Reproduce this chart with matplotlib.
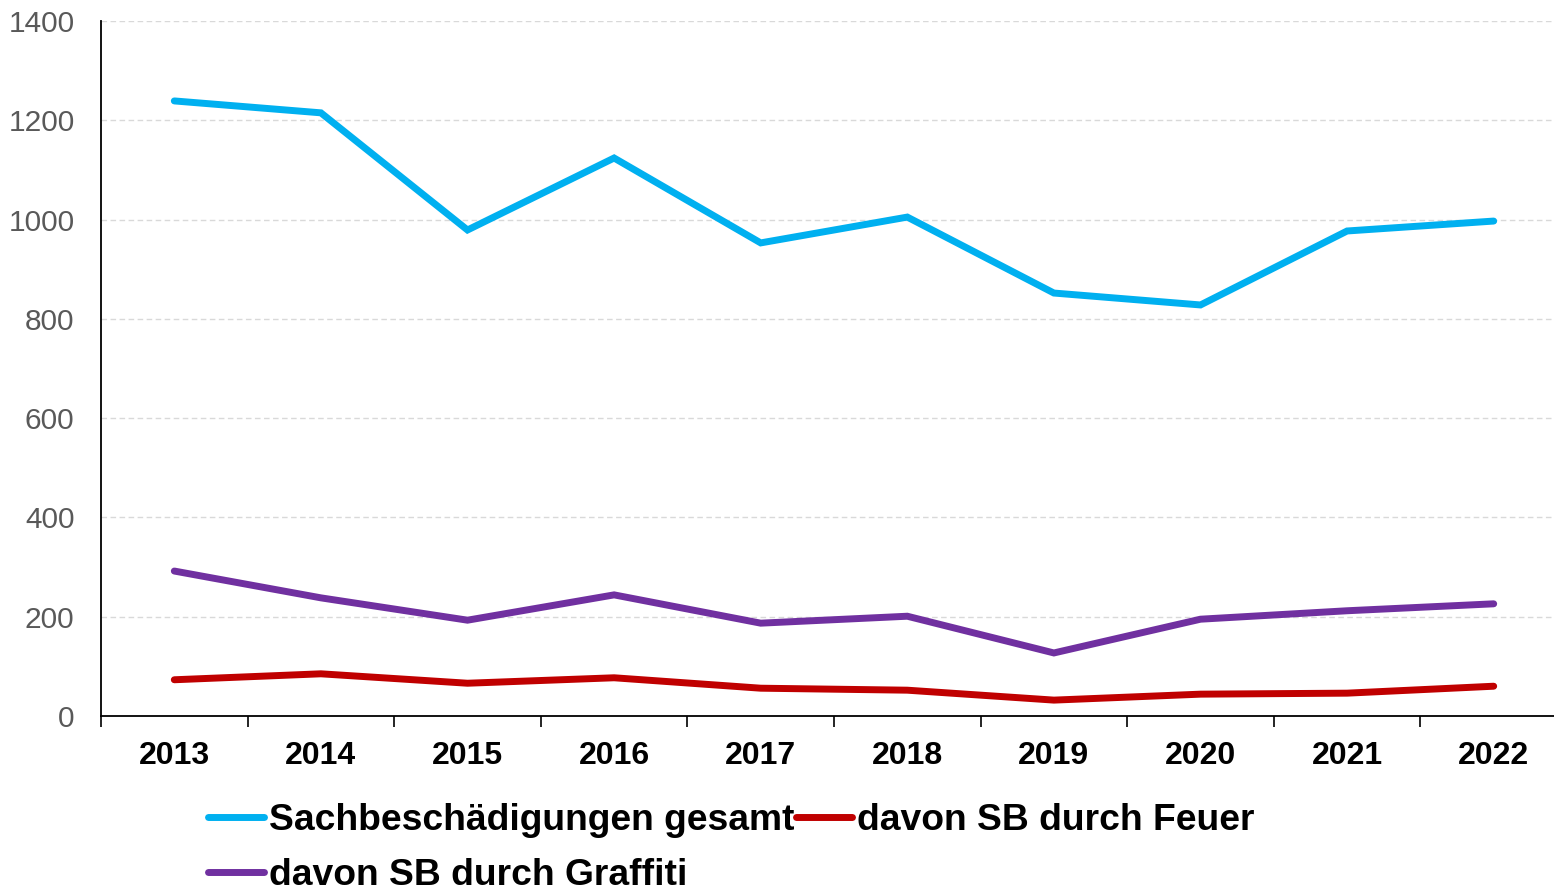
import matplotlib.pyplot as plt
from matplotlib.ticker import FixedLocator

plt.rcParams["font.family"] = ["Liberation Sans", "DejaVu Sans"]

jahre = ["2013", "2014", "2015", "2016", "2017", "2018", "2019", "2020", "2021", "2022"]
gesamt = [1239, 1215, 979, 1124, 953, 1005, 852, 828, 977, 997]
feuer = [73, 85, 66, 77, 56, 52, 32, 44, 46, 60]
graffiti = [292, 238, 193, 244, 187, 201, 127, 195, 212, 226]

labels = ["Sachbeschädigungen gesamt", "davon SB durch Feuer", "davon SB durch Graffiti"]
colors = ["#00B0F0", "#C00000", "#7030A0"]

fig = plt.figure(figsize=(15.54, 8.91), dpi=100)
ax = fig.add_axes([101 / 1554, 1 - 716 / 891, (1567 - 101) / 1554, (716 - 21) / 891])

x = list(range(len(jahre)))
lines = []
for vals, lab, col in zip([gesamt, feuer, graffiti], labels, colors):
    ln, = ax.plot(x, vals, color=col, lw=5, solid_capstyle="round",
                  solid_joinstyle="miter", label=lab, clip_on=False)
    lines.append(ln)

ax.set_xlim(-0.5, len(jahre) - 0.5)
ax.set_ylim(0, 1400)
ax.set_yticks(range(0, 1401, 200))
ax.set_xticks(x)
ax.set_xticklabels(jahre, fontsize=23, fontweight="bold")
ax.xaxis.set_minor_locator(FixedLocator([i - 0.5 for i in range(len(jahre) + 1)]))
ax.tick_params(axis="x", which="major", length=0, pad=18)
ax.tick_params(axis="x", which="minor", length=8, width=1.2, color="black", direction="out")
ax.tick_params(axis="y", length=0, pad=19, labelsize=21.5, labelcolor="#595959")

ax.grid(axis="y", color="#D9D9D9", lw=1, dashes=(4, 2.5))
ax.set_axisbelow(True)
for s in ["top", "right"]:
    ax.spines[s].set_visible(False)
for s in ["left", "bottom"]:
    ax.spines[s].set_linewidth(1.3)
    ax.spines[s].set_color("black")

# row-major order: gesamt, Feuer / Graffiti
order = [0, 2, 1]
leg = fig.legend([lines[i] for i in order], [labels[i] for i in order],
                 loc="upper left", bbox_to_anchor=(208 / 1554, 1 - 803 / 891),
                 ncol=2, frameon=False, borderaxespad=0, borderpad=0,
                 handlelength=1.5, handletextpad=0.13, columnspacing=0.05,
                 labelspacing=0.54, prop={"size": 26.8, "weight": "bold"})

fig.savefig("out.png", dpi=100)
